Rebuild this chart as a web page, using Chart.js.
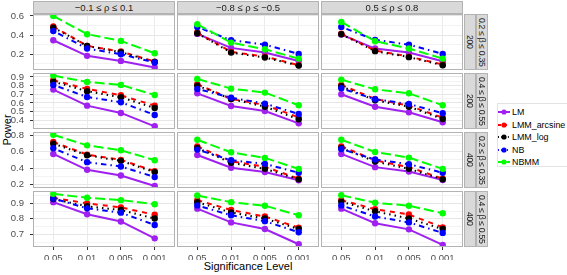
<!DOCTYPE html>
<html lang="en">
<head>
<meta charset="utf-8">
<title>Power vs significance level</title>
<script src="https://cdn.jsdelivr.net/npm/chart.js"></script>
<style>
  body { margin: 0; background: #fff; font-family: "Liberation Sans", Arial, sans-serif; }
  #wrap { position: relative; width: 567px; height: 275px; overflow: hidden; }
  #wrap canvas { position: absolute; left: 0; top: 0; }
  .strip { position: absolute; box-sizing: border-box; background: #d9d9d9; border: 1px solid #b3b3b3; overflow: hidden;
           color: #1a1a1a; font-size: 9.5px; display: flex; align-items: center; justify-content: center; white-space: nowrap; }
  .strip.side { writing-mode: vertical-rl; font-size: 8.6px; letter-spacing: -0.3px; }
  #ylab { position: absolute; left: -19px; top: 124px; width: 52px; text-align: center; font-size: 11px; transform: rotate(-90deg); }
  #xlab { position: absolute; left: 33px; width: 430px; top: 260px; text-align: center; font-size: 11px; }
  #legend { position: absolute; left: 497px; top: 103px; width: 80px; height: 64px; box-sizing: border-box;
            border: 1px solid #e3e3e3; padding-top: 2px; }
  #legend div { height: 12.5px; display: flex; align-items: center; font-size: 8.9px; color: #000; }
  #legend svg { margin: 0 2px 0 0; }
</style>
</head>
<body>
<div id="wrap">
  <div id="ylab">Power</div>
  <div id="xlab">Significance Level</div>
  <div id="legend"></div>
</div>

<script>
  const levels = ['0.05', '0.01', '0.005', '0.001'];
  const rhoLabels = ['\u22120.1 \u2264 \u03c1 \u2264 0.1', '\u22120.8 \u2264 \u03c1 \u2264 \u22120.5', '0.5 \u2264 \u03c1 \u2264 0.8'];
  const sizeLabels = ['200', '200', '400', '400'];
  const betaLabels = ['0.2 \u2264 \u03b2 \u2264 0.35', '0.4 \u2264 \u03b2 \u2264 0.55', '0.2 \u2264 \u03b2 \u2264 0.35', '0.4 \u2264 \u03b2 \u2264 0.55'];
  const seriesNames = ['LM', 'LMM_arcsine', 'LMM_log', 'NB', 'NBMM'];

  // one row of 4 values per panel, panels row by row (left to right)
  const lm = [
    [0.346, 0.183, 0.130, 0.061], [0.412, 0.266, 0.217, 0.130], [0.405, 0.259, 0.217, 0.127],
    [0.754, 0.569, 0.485, 0.331], [0.711, 0.565, 0.508, 0.365], [0.700, 0.557, 0.492, 0.377],
    [0.573, 0.378, 0.309, 0.180], [0.560, 0.403, 0.350, 0.249], [0.573, 0.411, 0.358, 0.253],
    [0.908, 0.830, 0.783, 0.674], [0.866, 0.777, 0.734, 0.636], [0.866, 0.772, 0.732, 0.632]
  ];
  const lmmArcsine = [
    [0.489, 0.287, 0.228, 0.123], [0.426, 0.224, 0.175, 0.085], [0.415, 0.238, 0.175, 0.092],
    [0.862, 0.762, 0.688, 0.569], [0.815, 0.646, 0.577, 0.434], [0.808, 0.646, 0.569, 0.430],
    [0.719, 0.565, 0.500, 0.362], [0.666, 0.484, 0.415, 0.269], [0.666, 0.496, 0.411, 0.269],
    [0.936, 0.900, 0.874, 0.826], [0.921, 0.857, 0.815, 0.743], [0.921, 0.862, 0.828, 0.745]
  ];
  const lmmLog = [
    [0.478, 0.287, 0.221, 0.120], [0.419, 0.217, 0.165, 0.081], [0.409, 0.232, 0.169, 0.085],
    [0.846, 0.735, 0.665, 0.542], [0.800, 0.646, 0.557, 0.411], [0.792, 0.630, 0.557, 0.415],
    [0.699, 0.557, 0.488, 0.350], [0.646, 0.464, 0.390, 0.261], [0.646, 0.480, 0.390, 0.261],
    [0.928, 0.881, 0.857, 0.802], [0.908, 0.841, 0.802, 0.734], [0.911, 0.849, 0.802, 0.734]
  ];
  const nb = [
    [0.443, 0.259, 0.200, 0.113], [0.485, 0.346, 0.300, 0.203], [0.485, 0.350, 0.300, 0.203],
    [0.808, 0.669, 0.608, 0.462], [0.762, 0.661, 0.592, 0.473], [0.769, 0.642, 0.588, 0.481],
    [0.642, 0.472, 0.419, 0.289], [0.626, 0.496, 0.451, 0.342], [0.634, 0.504, 0.447, 0.342],
    [0.932, 0.868, 0.840, 0.760], [0.887, 0.823, 0.785, 0.713], [0.887, 0.815, 0.777, 0.709]
  ];
  const nbmm = [
    [0.600, 0.409, 0.339, 0.210], [0.513, 0.321, 0.252, 0.154], [0.537, 0.336, 0.259, 0.154],
    [0.915, 0.842, 0.808, 0.692], [0.877, 0.765, 0.719, 0.573], [0.869, 0.757, 0.711, 0.573],
    [0.808, 0.678, 0.618, 0.496], [0.747, 0.593, 0.524, 0.390], [0.747, 0.597, 0.528, 0.390],
    [0.962, 0.936, 0.921, 0.894], [0.951, 0.908, 0.885, 0.823], [0.953, 0.904, 0.885, 0.836]
  ];

  // y range and ticks per facet row
  const yMin = [0.035, 0.30, 0.155, 0.618];
  const yMax = [0.62, 0.945, 0.842, 0.98];
  const yMajor = [[0.2, 0.4, 0.6], [0.4, 0.5, 0.6, 0.7, 0.8, 0.9], [0.2, 0.4, 0.6, 0.8], [0.7, 0.8, 0.9]];
  const yMinor = [[0.1, 0.3, 0.5], [0.35, 0.45, 0.55, 0.65, 0.75, 0.85], [0.3, 0.5, 0.7], [0.65, 0.75, 0.85, 0.95]];

  const allSeries = [lm, lmmArcsine, lmmLog, nb, nbmm];
  const colors = ['#A020F0', '#FF0000', '#000000', '#0000FF', '#00FF00'];
  const dashes = [[], [5, 5], [1.5, 4], [1.5, 4, 5.5, 4], [10, 4]];

  const W = 567, H = 275;
  const colLeft = [33, 177, 321];
  const rowTop = [14, 73, 132, 191];
  const panelW = 142, panelH = 56;
  const yAxisW = 27, xAxisH = 13;

  Chart.defaults.font.family = '"Liberation Sans", Arial, sans-serif';

  const framePlugin = {
    id: 'frame',
    afterDatasetsDraw(chart) {
      const a = chart.chartArea;
      const ctx = chart.ctx;
      ctx.save();
      ctx.strokeStyle = '#b3b3b3';
      ctx.lineWidth = 1;
      ctx.strokeRect(a.left + 0.5, a.top + 0.5, a.right - a.left - 1, a.bottom - a.top - 1);
      ctx.restore();
    }
  };

  const wrap = document.getElementById('wrap');

  for (let r = 0; r < 4; r++) {
    for (let c = 0; c < 3; c++) {
      const p = r * 3 + c;
      const left = colLeft[c], top = rowTop[r];
      const yW = c === 0 ? yAxisW : 0;
      const xH = r === 3 ? xAxisH : 0;

      const canvas = document.createElement('canvas');
      canvas.width = W;
      canvas.height = H;
      wrap.appendChild(canvas);

      const datasets = allSeries.map((s, i) => ({
        label: seriesNames[i],
        data: s[p].map((v, k) => ({ x: k, y: v })),
        borderColor: colors[i],
        backgroundColor: colors[i],
        borderWidth: 2,
        borderDash: dashes[i],
        pointRadius: 3.2,
        pointBorderWidth: 0,
        tension: 0,
        order: 4 - i
      }));

      const isMajor = v => yMajor[r].includes(v);

      new Chart(canvas, {
        type: 'line',
        data: { datasets },
        options: {
          responsive: false,
          animation: false,
          layout: {
            padding: { left: left - yW, top: top, right: W - left - panelW, bottom: H - top - panelH - xH }
          },
          plugins: { legend: { display: false }, tooltip: { enabled: false } },
          scales: {
            x: {
              type: 'linear',
              min: -0.6,
              max: 3.6,
              afterBuildTicks: s => { s.ticks = levels.map((_, i) => ({ value: i })); },
              afterFit: s => { s.height = xH; },
              border: { display: false },
              grid: { color: '#ebebeb', drawTicks: r === 3, tickLength: 3, tickColor: '#333' },
              ticks: {
                display: r === 3,
                callback: v => levels[v],
                color: '#4d4d4d',
                font: { size: 9.5 },
                padding: 3,
                maxRotation: 0,
                autoSkip: false
              }
            },
            y: {
              min: yMin[r],
              max: yMax[r],
              afterBuildTicks: s => {
                s.ticks = yMajor[r].concat(yMinor[r]).sort((a, b) => a - b).map(v => ({ value: v }));
              },
              afterFit: s => { s.width = yW; },
              border: { display: false },
              grid: {
                color: ctx => (ctx.tick && isMajor(ctx.tick.value)) ? '#e6e6e6' : '#f3f3f3',
                drawTicks: c === 0,
                tickLength: 3,
                tickColor: ctx => (ctx.tick && isMajor(ctx.tick.value)) ? '#333' : 'rgba(0,0,0,0)'
              },
              ticks: {
                display: c === 0,
                callback: v => isMajor(v) ? v.toFixed(1) : '',
                color: '#4d4d4d',
                font: { size: 9.5 },
                padding: 6,
                autoSkip: false
              }
            }
          }
        },
        plugins: [framePlugin]
      });
    }
  }

  // facet strips
  rhoLabels.forEach((txt, c) => {
    const d = document.createElement('div');
    d.className = 'strip';
    d.style.left = colLeft[c] + 'px';
    d.style.top = '1px';
    d.style.width = panelW + 'px';
    d.style.height = '13px';
    d.textContent = txt;
    wrap.appendChild(d);
  });
  rowTop.forEach((top, r) => {
    [[sizeLabels[r], 464], [betaLabels[r], 476]].forEach(([txt, x]) => {
      const d = document.createElement('div');
      d.className = 'strip side';
      d.style.left = x + 'px';
      d.style.top = top + 'px';
      d.style.width = '12px';
      d.style.height = panelH + 'px';
      d.textContent = txt;
      wrap.appendChild(d);
    });
  });

  // legend
  const legend = document.getElementById('legend');
  seriesNames.forEach((name, i) => {
    const row = document.createElement('div');
    const dash = dashes[i].length ? dashes[i].map(v => v * 0.6).join(' ') : 'none';
    row.innerHTML = '<svg width="12" height="8"><line x1="0" y1="4" x2="12" y2="4" stroke="' + colors[i] +
      '" stroke-width="2" stroke-dasharray="' + dash + '"/><circle cx="6" cy="4" r="2.6" fill="' + colors[i] + '"/></svg>';
    const label = document.createElement('span');
    label.textContent = name;
    row.appendChild(label);
    legend.appendChild(row);
  });
</script>
</body>
</html>
